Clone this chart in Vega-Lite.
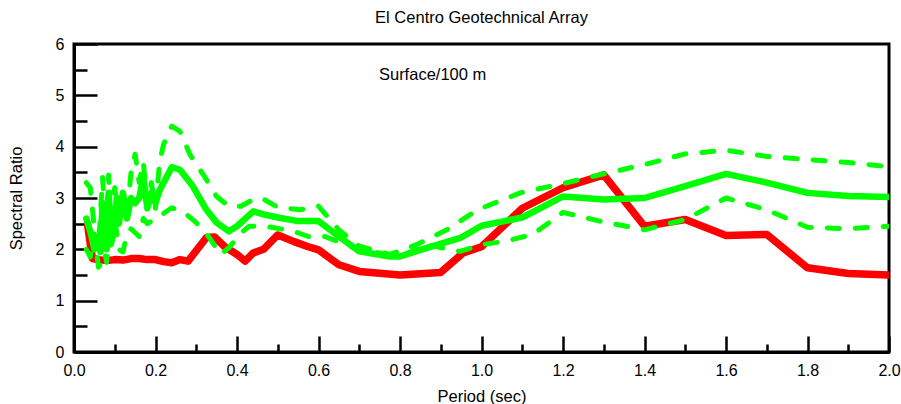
{
  "$schema": "https://vega.github.io/schema/vega-lite/v6.json",
  "width": 815,
  "height": 308,
  "autosize": {"type": "none"},
  "padding": {"left": 74, "top": 44, "right": 12, "bottom": 52},
  "background": "white",
  "title": {"text": "El Centro Geotechnical Array", "fontSize": 16.5, "font": "Liberation Sans", "fontWeight": "normal", "offset": 10, "anchor": "middle", "color": "black"},
  "config": {
    "view": {"stroke": "black", "strokeWidth": 3},
    "axis": {"grid": false, "labelFont": "Liberation Sans", "titleFont": "Liberation Sans", "labelFontSize": 16, "titleFontSize": 16.5, "titleFontWeight": "normal", "labelColor": "black", "titleColor": "black", "tickColor": "black", "domainColor": "black", "domainWidth": 3, "tickWidth": 2.5, "labelOverlap": false, "labelFlush": false}
  },
  "data": {"values": [
    {"period": 0.033, "ratio": 2.5, "series": "obs"},
    {"period": 0.045, "ratio": 1.82, "series": "obs"},
    {"period": 0.06, "ratio": 1.8, "series": "obs"},
    {"period": 0.08, "ratio": 1.78, "series": "obs"},
    {"period": 0.1, "ratio": 1.8, "series": "obs"},
    {"period": 0.12, "ratio": 1.79, "series": "obs"},
    {"period": 0.14, "ratio": 1.82, "series": "obs"},
    {"period": 0.16, "ratio": 1.82, "series": "obs"},
    {"period": 0.18, "ratio": 1.8, "series": "obs"},
    {"period": 0.2, "ratio": 1.8, "series": "obs"},
    {"period": 0.22, "ratio": 1.76, "series": "obs"},
    {"period": 0.24, "ratio": 1.74, "series": "obs"},
    {"period": 0.26, "ratio": 1.8, "series": "obs"},
    {"period": 0.28, "ratio": 1.77, "series": "obs"},
    {"period": 0.325, "ratio": 2.23, "series": "obs"},
    {"period": 0.345, "ratio": 2.24, "series": "obs"},
    {"period": 0.37, "ratio": 2.05, "series": "obs"},
    {"period": 0.4, "ratio": 1.9, "series": "obs"},
    {"period": 0.42, "ratio": 1.77, "series": "obs"},
    {"period": 0.44, "ratio": 1.93, "series": "obs"},
    {"period": 0.465, "ratio": 2.0, "series": "obs"},
    {"period": 0.5, "ratio": 2.28, "series": "obs"},
    {"period": 0.54, "ratio": 2.15, "series": "obs"},
    {"period": 0.575, "ratio": 2.05, "series": "obs"},
    {"period": 0.6, "ratio": 1.99, "series": "obs"},
    {"period": 0.65, "ratio": 1.7, "series": "obs"},
    {"period": 0.7, "ratio": 1.57, "series": "obs"},
    {"period": 0.8, "ratio": 1.5, "series": "obs"},
    {"period": 0.9, "ratio": 1.55, "series": "obs"},
    {"period": 0.955, "ratio": 1.93, "series": "obs"},
    {"period": 1.0, "ratio": 2.05, "series": "obs"},
    {"period": 1.1, "ratio": 2.8, "series": "obs"},
    {"period": 1.2, "ratio": 3.2, "series": "obs"},
    {"period": 1.3, "ratio": 3.45, "series": "obs"},
    {"period": 1.4, "ratio": 2.45, "series": "obs"},
    {"period": 1.5, "ratio": 2.58, "series": "obs"},
    {"period": 1.6, "ratio": 2.27, "series": "obs"},
    {"period": 1.7, "ratio": 2.29, "series": "obs"},
    {"period": 1.8, "ratio": 1.64, "series": "obs"},
    {"period": 1.9, "ratio": 1.53, "series": "obs"},
    {"period": 2.0, "ratio": 1.5, "series": "obs"},

    {"period": 0.03, "ratio": 2.6, "series": "mean"},
    {"period": 0.04, "ratio": 2.35, "series": "mean"},
    {"period": 0.05, "ratio": 2.0, "series": "mean"},
    {"period": 0.06, "ratio": 2.2, "series": "mean"},
    {"period": 0.065, "ratio": 1.95, "series": "mean"},
    {"period": 0.07, "ratio": 2.9, "series": "mean"},
    {"period": 0.075, "ratio": 2.1, "series": "mean"},
    {"period": 0.08, "ratio": 2.0, "series": "mean"},
    {"period": 0.085, "ratio": 3.1, "series": "mean"},
    {"period": 0.09, "ratio": 2.1, "series": "mean"},
    {"period": 0.1, "ratio": 2.4, "series": "mean"},
    {"period": 0.105, "ratio": 3.0, "series": "mean"},
    {"period": 0.11, "ratio": 2.5, "series": "mean"},
    {"period": 0.12, "ratio": 3.1, "series": "mean"},
    {"period": 0.13, "ratio": 2.6, "series": "mean"},
    {"period": 0.14, "ratio": 3.0, "series": "mean"},
    {"period": 0.15, "ratio": 2.9, "series": "mean"},
    {"period": 0.16, "ratio": 3.0, "series": "mean"},
    {"period": 0.17, "ratio": 3.4, "series": "mean"},
    {"period": 0.18, "ratio": 2.8, "series": "mean"},
    {"period": 0.19, "ratio": 3.1, "series": "mean"},
    {"period": 0.2, "ratio": 2.9, "series": "mean"},
    {"period": 0.21, "ratio": 3.15, "series": "mean"},
    {"period": 0.22, "ratio": 3.3, "series": "mean"},
    {"period": 0.24, "ratio": 3.6, "series": "mean"},
    {"period": 0.26, "ratio": 3.55, "series": "mean"},
    {"period": 0.29, "ratio": 3.25, "series": "mean"},
    {"period": 0.325, "ratio": 2.77, "series": "mean"},
    {"period": 0.35, "ratio": 2.52, "series": "mean"},
    {"period": 0.38, "ratio": 2.35, "series": "mean"},
    {"period": 0.4, "ratio": 2.45, "series": "mean"},
    {"period": 0.44, "ratio": 2.74, "series": "mean"},
    {"period": 0.465, "ratio": 2.68, "series": "mean"},
    {"period": 0.5, "ratio": 2.62, "series": "mean"},
    {"period": 0.55, "ratio": 2.55, "series": "mean"},
    {"period": 0.6, "ratio": 2.55, "series": "mean"},
    {"period": 0.65, "ratio": 2.25, "series": "mean"},
    {"period": 0.7, "ratio": 1.96, "series": "mean"},
    {"period": 0.775, "ratio": 1.86, "series": "mean"},
    {"period": 0.8, "ratio": 1.86, "series": "mean"},
    {"period": 0.85, "ratio": 1.99, "series": "mean"},
    {"period": 0.95, "ratio": 2.23, "series": "mean"},
    {"period": 1.0, "ratio": 2.46, "series": "mean"},
    {"period": 1.1, "ratio": 2.62, "series": "mean"},
    {"period": 1.2, "ratio": 3.03, "series": "mean"},
    {"period": 1.3, "ratio": 2.97, "series": "mean"},
    {"period": 1.4, "ratio": 3.0, "series": "mean"},
    {"period": 1.5, "ratio": 3.23, "series": "mean"},
    {"period": 1.6, "ratio": 3.47, "series": "mean"},
    {"period": 1.7, "ratio": 3.3, "series": "mean"},
    {"period": 1.8, "ratio": 3.1, "series": "mean"},
    {"period": 1.9, "ratio": 3.04, "series": "mean"},
    {"period": 2.0, "ratio": 3.02, "series": "mean"},

    {"period": 0.03, "ratio": 3.3, "series": "upper"},
    {"period": 0.04, "ratio": 3.2, "series": "upper"},
    {"period": 0.05, "ratio": 2.4, "series": "upper"},
    {"period": 0.06, "ratio": 2.0, "series": "upper"},
    {"period": 0.07, "ratio": 3.4, "series": "upper"},
    {"period": 0.08, "ratio": 2.3, "series": "upper"},
    {"period": 0.085, "ratio": 3.45, "series": "upper"},
    {"period": 0.09, "ratio": 2.5, "series": "upper"},
    {"period": 0.1, "ratio": 3.2, "series": "upper"},
    {"period": 0.11, "ratio": 2.6, "series": "upper"},
    {"period": 0.12, "ratio": 3.1, "series": "upper"},
    {"period": 0.13, "ratio": 2.7, "series": "upper"},
    {"period": 0.14, "ratio": 3.5, "series": "upper"},
    {"period": 0.15, "ratio": 3.85, "series": "upper"},
    {"period": 0.16, "ratio": 3.3, "series": "upper"},
    {"period": 0.17, "ratio": 3.7, "series": "upper"},
    {"period": 0.18, "ratio": 2.9, "series": "upper"},
    {"period": 0.19, "ratio": 3.3, "series": "upper"},
    {"period": 0.2, "ratio": 2.8, "series": "upper"},
    {"period": 0.21, "ratio": 3.7, "series": "upper"},
    {"period": 0.22, "ratio": 4.05, "series": "upper"},
    {"period": 0.24, "ratio": 4.4, "series": "upper"},
    {"period": 0.26, "ratio": 4.3, "series": "upper"},
    {"period": 0.285, "ratio": 3.84, "series": "upper"},
    {"period": 0.32, "ratio": 3.42, "series": "upper"},
    {"period": 0.35, "ratio": 3.03, "series": "upper"},
    {"period": 0.38, "ratio": 2.84, "series": "upper"},
    {"period": 0.41, "ratio": 2.84, "series": "upper"},
    {"period": 0.44, "ratio": 2.97, "series": "upper"},
    {"period": 0.46, "ratio": 3.0, "series": "upper"},
    {"period": 0.5, "ratio": 2.82, "series": "upper"},
    {"period": 0.555, "ratio": 2.77, "series": "upper"},
    {"period": 0.6, "ratio": 2.84, "series": "upper"},
    {"period": 0.65, "ratio": 2.38, "series": "upper"},
    {"period": 0.7, "ratio": 2.06, "series": "upper"},
    {"period": 0.775, "ratio": 1.9, "series": "upper"},
    {"period": 0.84, "ratio": 2.09, "series": "upper"},
    {"period": 0.915, "ratio": 2.38, "series": "upper"},
    {"period": 0.99, "ratio": 2.77, "series": "upper"},
    {"period": 1.095, "ratio": 3.1, "series": "upper"},
    {"period": 1.2, "ratio": 3.28, "series": "upper"},
    {"period": 1.3, "ratio": 3.47, "series": "upper"},
    {"period": 1.4, "ratio": 3.65, "series": "upper"},
    {"period": 1.5, "ratio": 3.86, "series": "upper"},
    {"period": 1.6, "ratio": 3.93, "series": "upper"},
    {"period": 1.7, "ratio": 3.81, "series": "upper"},
    {"period": 1.8, "ratio": 3.75, "series": "upper"},
    {"period": 1.9, "ratio": 3.69, "series": "upper"},
    {"period": 2.0, "ratio": 3.61, "series": "upper"},

    {"period": 0.03, "ratio": 2.0, "series": "lower"},
    {"period": 0.04, "ratio": 1.85, "series": "lower"},
    {"period": 0.05, "ratio": 2.3, "series": "lower"},
    {"period": 0.06, "ratio": 1.65, "series": "lower"},
    {"period": 0.065, "ratio": 1.7, "series": "lower"},
    {"period": 0.07, "ratio": 2.2, "series": "lower"},
    {"period": 0.08, "ratio": 1.75, "series": "lower"},
    {"period": 0.09, "ratio": 2.5, "series": "lower"},
    {"period": 0.1, "ratio": 2.6, "series": "lower"},
    {"period": 0.11, "ratio": 2.0, "series": "lower"},
    {"period": 0.12, "ratio": 1.95, "series": "lower"},
    {"period": 0.13, "ratio": 2.3, "series": "lower"},
    {"period": 0.14, "ratio": 2.4, "series": "lower"},
    {"period": 0.16, "ratio": 2.25, "series": "lower"},
    {"period": 0.17, "ratio": 2.6, "series": "lower"},
    {"period": 0.18, "ratio": 2.5, "series": "lower"},
    {"period": 0.2, "ratio": 2.6, "series": "lower"},
    {"period": 0.22, "ratio": 2.7, "series": "lower"},
    {"period": 0.24, "ratio": 2.81, "series": "lower"},
    {"period": 0.27, "ratio": 2.72, "series": "lower"},
    {"period": 0.3, "ratio": 2.52, "series": "lower"},
    {"period": 0.33, "ratio": 2.25, "series": "lower"},
    {"period": 0.36, "ratio": 1.9, "series": "lower"},
    {"period": 0.38, "ratio": 2.03, "series": "lower"},
    {"period": 0.41, "ratio": 2.32, "series": "lower"},
    {"period": 0.43, "ratio": 2.45, "series": "lower"},
    {"period": 0.47, "ratio": 2.45, "series": "lower"},
    {"period": 0.54, "ratio": 2.35, "series": "lower"},
    {"period": 0.575, "ratio": 2.25, "series": "lower"},
    {"period": 0.615, "ratio": 2.25, "series": "lower"},
    {"period": 0.7, "ratio": 2.0, "series": "lower"},
    {"period": 0.8, "ratio": 1.86, "series": "lower"},
    {"period": 0.865, "ratio": 2.09, "series": "lower"},
    {"period": 0.947, "ratio": 1.96, "series": "lower"},
    {"period": 1.0, "ratio": 2.09, "series": "lower"},
    {"period": 1.06, "ratio": 2.16, "series": "lower"},
    {"period": 1.126, "ratio": 2.29, "series": "lower"},
    {"period": 1.2, "ratio": 2.72, "series": "lower"},
    {"period": 1.29, "ratio": 2.55, "series": "lower"},
    {"period": 1.4, "ratio": 2.38, "series": "lower"},
    {"period": 1.5, "ratio": 2.58, "series": "lower"},
    {"period": 1.6, "ratio": 3.0, "series": "lower"},
    {"period": 1.7, "ratio": 2.77, "series": "lower"},
    {"period": 1.8, "ratio": 2.43, "series": "lower"},
    {"period": 1.9, "ratio": 2.4, "series": "lower"},
    {"period": 2.0, "ratio": 2.45, "series": "lower"},

    {"period": 0.88, "ratio": 5.4, "series": "label", "text": "Surface/100 m"}
  ]},
  "resolve": {"axis": {"x": "independent", "y": "independent"}},
  "layer": [
    {
      "transform": [{"filter": "datum.series === 'obs'"}],
      "mark": {"type": "line", "color": "#ff0000", "strokeWidth": 7.5, "strokeJoin": "round", "strokeCap": "round", "clip": true},
      "encoding": {
        "x": {"field": "period", "type": "quantitative", "scale": {"domain": [0, 2], "nice": false, "zero": false},
          "axis": {"orient": "bottom", "values": [0, 0.2, 0.4, 0.6, 0.8, 1.0, 1.2, 1.4, 1.6, 1.8, 2.0], "format": ".1f", "tickSize": -16, "labelPadding": 26, "title": "Period (sec)", "titlePadding": 10}},
        "y": {"field": "ratio", "type": "quantitative", "scale": {"domain": [0, 6], "nice": false},
          "axis": {"orient": "left", "values": [0, 1, 2, 3, 4, 5, 6], "format": "d", "tickSize": -23, "labelPadding": 33, "title": "Spectral Ratio", "titlePadding": 31}}
      }
    },
    {
      "transform": [{"filter": "datum.series === 'mean'"}],
      "mark": {"type": "line", "color": "#00ff00", "strokeWidth": 6.5, "strokeJoin": "round", "strokeCap": "round", "clip": true},
      "encoding": {
        "x": {"field": "period", "type": "quantitative", "scale": {"domain": [0, 2], "nice": false, "zero": false},
          "axis": {"orient": "bottom", "values": [0.1, 0.3, 0.5, 0.7, 0.9, 1.1, 1.3, 1.5, 1.7, 1.9], "tickSize": -8, "labels": false, "domain": false, "title": null}},
        "y": {"field": "ratio", "type": "quantitative", "scale": {"domain": [0, 6], "nice": false},
          "axis": {"orient": "left", "values": [0.5, 1.5, 2.5, 3.5, 4.5, 5.5], "tickSize": -13, "labels": false, "domain": false, "title": null}}
      }
    },
    {
      "transform": [{"filter": "datum.series === 'upper' || datum.series === 'lower'"}],
      "mark": {"type": "line", "color": "#00ff00", "strokeWidth": 5, "strokeDash": [12, 16], "strokeCap": "round", "strokeJoin": "round", "clip": true},
      "encoding": {
        "x": {"field": "period", "type": "quantitative", "scale": {"domain": [0, 2], "nice": false, "zero": false}, "axis": null},
        "y": {"field": "ratio", "type": "quantitative", "scale": {"domain": [0, 6], "nice": false}, "axis": null},
        "detail": {"field": "series", "type": "nominal"}
      }
    },
    {
      "transform": [{"filter": "datum.series === 'label'"}],
      "mark": {"type": "text", "font": "Liberation Sans", "fontSize": 16.5, "color": "black", "align": "center", "baseline": "middle"},
      "encoding": {
        "x": {"field": "period", "type": "quantitative", "scale": {"domain": [0, 2], "nice": false, "zero": false}, "axis": null},
        "y": {"field": "ratio", "type": "quantitative", "scale": {"domain": [0, 6], "nice": false}, "axis": null},
        "text": {"field": "text", "type": "nominal"}
      }
    }
  ]
}
